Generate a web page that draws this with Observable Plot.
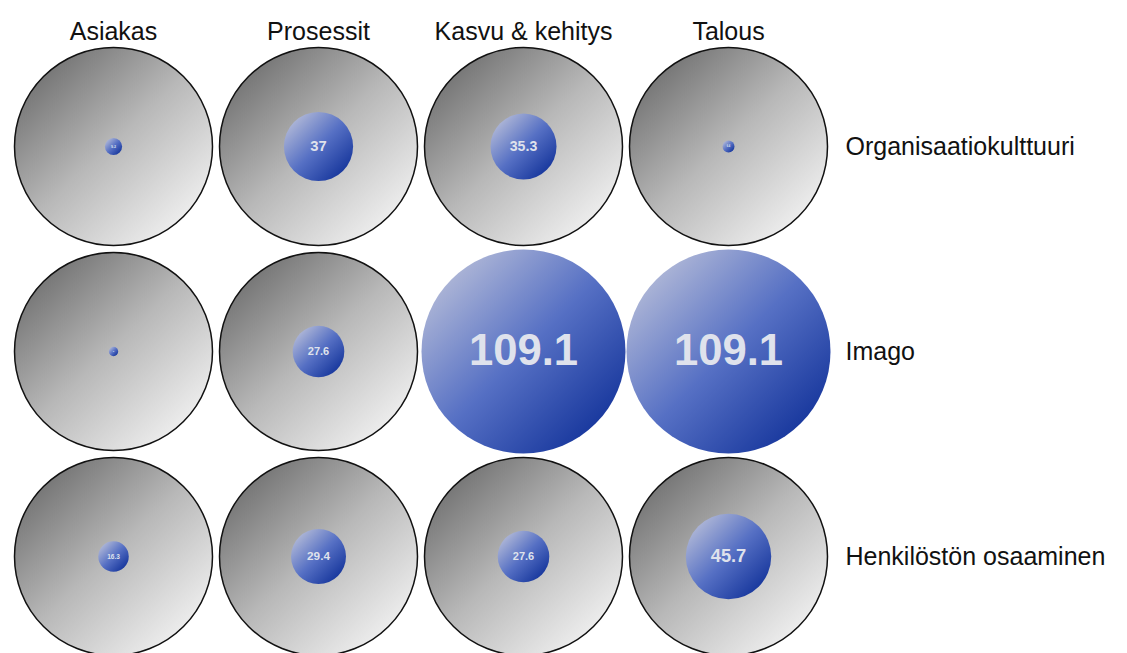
<!DOCTYPE html>
<html>
<head>
<meta charset="utf-8">
<script src="https://cdn.jsdelivr.net/npm/d3@7"></script>
<script src="https://cdn.jsdelivr.net/npm/@observablehq/plot@0.6"></script>
<style>
  html, body { margin: 0; padding: 0; background: #fff; }
  #chart svg { display: block; }
</style>
</head>
<body>
<div id="chart"></div>
<script>
const columns = ["Asiakas", "Prosessit", "Kasvu & kehitys", "Talous"];
const rows = ["Organisaatiokulttuuri", "Imago", "Henkilöstön osaaminen"];
// values per row, in column order
const organisaatiokulttuuri = [9.2, 37, 35.3, 6.4];
const imago = [5.0, 27.6, 109.1, 109.1];
const henkilosto = [16.3, 29.4, 27.6, 45.7];
const seriesValues = [organisaatiokulttuuri, imago, henkilosto];

const data = rows.flatMap((row, i) =>
  columns.map((col, j) => ({ row, col, value: seriesValues[i][j] }))
);

const chart = Plot.plot({
  width: 1127,
  height: 653,
  marginLeft: 112,
  marginRight: 398,
  marginTop: 145,
  marginBottom: 97,
  style: { fontFamily: "Liberation Sans, Arial, sans-serif", background: "#fff" },
  x: { type: "point", domain: columns, padding: 0, axis: null },
  y: { type: "point", domain: rows, padding: 0, axis: null },
  r: { type: "linear", domain: [0, 109.1], range: [0, 102] },
  marks: [
    Plot.axisX({ anchor: "top", tickSize: 0, tickPadding: 106, fontSize: 25, fill: "#111", label: null }),
    Plot.axisY({ anchor: "right", tickSize: 0, tickPadding: 116, fontSize: 25, fill: "#111", textAnchor: "start", label: null }),
    Plot.dot(data, { x: "col", y: "row", r: 99, fill: "url(#grayGrad)", stroke: "#111", strokeWidth: 1.5 }),
    Plot.dot(data, { x: "col", y: "row", r: "value", fill: "url(#blueGrad)", stroke: "none" }),
    Plot.text(data, {
      x: "col", y: "row", text: d => String(d.value),
      fill: "#dfe2ec", fontWeight: "bold",
      fontSize: d => Math.max(2, d.value * 0.4)
    })
  ]
});

const svg = d3.select(chart);
const defs = svg.insert("defs", ":first-child");
const g = defs.append("linearGradient").attr("id", "grayGrad")
  .attr("x1", 0.05).attr("y1", 0.05).attr("x2", 0.9).attr("y2", 0.95);
g.append("stop").attr("offset", "0%").attr("stop-color", "#666666");
g.append("stop").attr("offset", "50%").attr("stop-color", "#b8b8b8");
g.append("stop").attr("offset", "100%").attr("stop-color", "#f6f6f6");
const b = defs.append("linearGradient").attr("id", "blueGrad")
  .attr("x1", 0.1).attr("y1", 0.1).attr("x2", 0.9).attr("y2", 0.9);
b.append("stop").attr("offset", "0%").attr("stop-color", "#b4bbd8");
b.append("stop").attr("offset", "50%").attr("stop-color", "#5670c4");
b.append("stop").attr("offset", "100%").attr("stop-color", "#13339a");

document.getElementById("chart").appendChild(chart);
</script>
</body>
</html>
